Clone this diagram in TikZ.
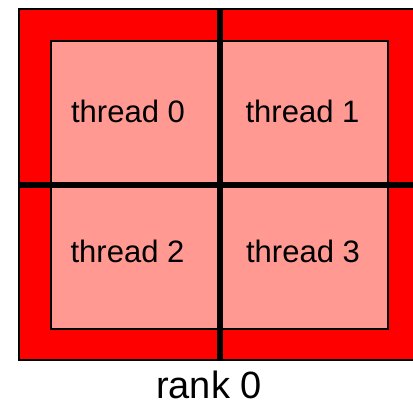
\documentclass[tikz,border=0pt]{standalone}
\usepackage{fontspec}
\setmainfont{Liberation Sans}
\usetikzlibrary{positioning}
\definecolor{rankred}{RGB}{255,0,0}
\definecolor{threadred}{RGB}{255,153,145}
\begin{document}
\begin{tikzpicture}[x=1pt,y=-1pt]
      \useasboundingbox (0,0) rectangle (413,405);
      \coordinate (origo) at (17.5,8);

      \tikzstyle{block} = [
        rectangle,
        draw=black,
        line width=2pt,
        anchor=north west,
        inner sep=0pt,
      ]
      \tikzstyle{threadlabel} = [
        draw=none,
        anchor=base,
        font=\fontsize{31}{36}\selectfont
      ]
      \tikzstyle{split} = [line width=6pt, draw=black]

      % rank
      \node[block,fill=rankred,minimum width=402.5pt,minimum height=351pt] (rank) at (origo) {};

      % threads
      \node[block,fill=threadred,minimum width=337pt,minimum height=288pt] (threads) at ([xshift=32.5pt,yshift=-32pt] origo) {};

      % cuts through the rank
      \draw[split] (rank.north) -- (rank.south);
      \draw[split] (rank.west) -- (rank.east);

      % labels
      \node[threadlabel] (thread0) at (128,122) {thread 0};
      \node[threadlabel] (thread1) at (302.5,122) {thread 1};
      \node[threadlabel] (thread2) at (127.5,262) {thread 2};
      \node[threadlabel] (thread3) at (303,262) {thread 3};
      \node[threadlabel,font=\fontsize{38}{44}\selectfont,text depth=0pt,inner ysep=0pt] (rankLabel) at (209,398) {rank 0};
    \end{tikzpicture}
\end{document}
